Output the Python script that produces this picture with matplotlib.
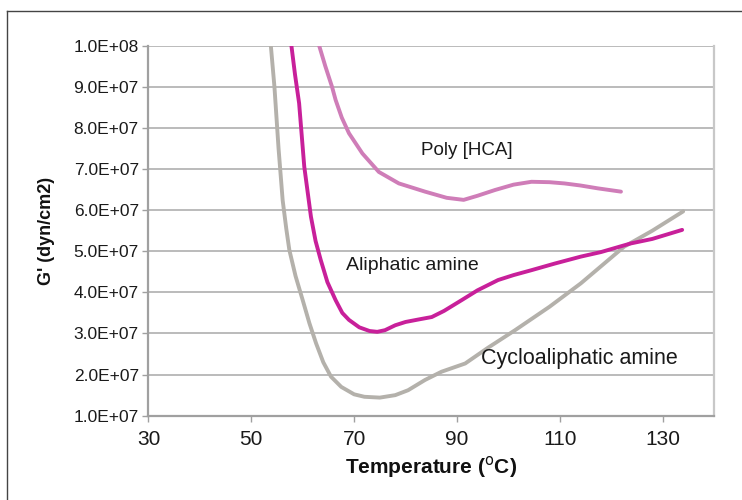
import matplotlib
matplotlib.use("Agg")
import matplotlib.pyplot as plt
from matplotlib.lines import Line2D

plt.rcParams['font.family'] = ['Liberation Sans', 'DejaVu Sans']

# Data (G' in units of 1e7 dyn/cm2)
cyclo_T = [53.0, 53.8, 54.5, 55.3, 56.1, 56.8, 57.4, 58.6, 60.0, 61.3, 62.6, 64.0, 65.5, 67.5,
           70.0, 72.0, 75.0, 78.0, 80.5, 83.8, 87.0, 91.6, 96.0, 101.3, 108.0, 114.1,
           122.5, 128.0, 134.0]
cyclo_G = [11.0, 10.0, 9.0, 7.5, 6.24, 5.55, 5.03, 4.4, 3.81, 3.25, 2.76, 2.3, 1.95, 1.7,
           1.52, 1.46, 1.44, 1.5, 1.62, 1.87, 2.07, 2.27, 2.65, 3.08, 3.65, 4.22,
           5.11, 5.5, 5.97]

aliph_T = [57.2, 57.8, 58.5, 59.3, 60.3, 61.6, 62.5, 63.5, 64.8, 66.4, 67.7, 69.0, 71.0, 73.0,
           74.5, 76.0, 78.0, 80.0, 82.5, 85.1, 87.5, 90.9, 94.0, 98.0, 101.0, 104.5,
           109.0, 114.1, 118.0, 123.8, 128.0, 133.8]
aliph_G = [11.0, 10.0, 9.3, 8.6, 7.06, 5.84, 5.25, 4.79, 4.25, 3.81, 3.5, 3.33, 3.15, 3.06,
           3.04, 3.08, 3.2, 3.28, 3.34, 3.40, 3.55, 3.81, 4.05, 4.30, 4.42, 4.54,
           4.7, 4.87, 4.98, 5.19, 5.3, 5.52]

poly_T = [62.4, 63.2, 64.4, 65.7, 66.4, 67.6, 69.0, 71.6, 74.8, 78.7, 83.8, 88.0, 91.3, 94.0,
          97.4, 101.0, 104.5, 108.0, 110.9, 114.0, 117.4, 121.9]
poly_G = [11.0, 10.0, 9.5, 9.0, 8.68, 8.25, 7.87, 7.38, 6.93, 6.65, 6.45, 6.3, 6.25, 6.35,
          6.49, 6.62, 6.69, 6.68, 6.65, 6.6, 6.53, 6.45]

x_ticks = [30, 50, 70, 90, 110, 130]
y_ticks = [1, 2, 3, 4, 5, 6, 7, 8, 9, 10]
y_tick_labels = ["1.0E+07", "2.0E+07", "3.0E+07", "4.0E+07", "5.0E+07",
                 "6.0E+07", "7.0E+07", "8.0E+07", "9.0E+07", "1.0E+08"]

fig = plt.figure(figsize=(7.42, 5.0), dpi=100)
ax = fig.add_axes([0.2001, 0.1686, 0.7622, 0.74])

ax.set_xlim(30, 140)
ax.set_ylim(1, 10)
ax.set_yticks(y_ticks)
ax.set_yticklabels(y_tick_labels)
ax.set_xticks(x_ticks)

ax.grid(axis='y', color='#a8a8a8', linewidth=1.1, zorder=0)
ax.set_axisbelow(True)

lw = 2.8
ax.plot(cyclo_T, cyclo_G, color='#b4b1ab', linewidth=lw, solid_capstyle='round',
        solid_joinstyle='round', zorder=3)
ax.plot(aliph_T, aliph_G, color='#c8209a', linewidth=lw, solid_capstyle='round',
        solid_joinstyle='round', zorder=4)
ax.plot(poly_T, poly_G, color='#cf7db8', linewidth=lw, solid_capstyle='round',
        solid_joinstyle='round', zorder=4)

ax.text(83.1, 7.46, "Poly [HCA]", fontsize=13.5, color='#1a1a1a', va='center', ha='left')
ax.text(68.4, 4.65, "Aliphatic amine", fontsize=14, color='#1a1a1a', va='center', ha='left')
ax.text(94.7, 2.4, "Cycloaliphatic amine", fontsize=15.5, color='#1a1a1a', va='center', ha='left')

for s in ['left', 'bottom']:
    ax.spines[s].set_color('#a0a0a0')
    ax.spines[s].set_linewidth(1.6)
ax.spines['right'].set_color('#c8c8c8')
ax.spines['right'].set_linewidth(1.6)
ax.spines['top'].set_visible(False)

ax.tick_params(axis='x', direction='out', length=4, width=1, color='#a0a0a0',
               labelsize=15, labelcolor='#1a1a1a', pad=6)
ax.tick_params(axis='y', direction='out', length=4, width=1, color='#a0a0a0',
               labelsize=12.5, labelcolor='#1a1a1a', pad=3)

ax.set_xlabel("Temperature ($^{\\mathrm{o}}$C)", fontsize=15, fontweight='bold',
              color='#111111', labelpad=4)
ax.set_ylabel("G' (dyn/cm2)", fontsize=13, fontweight='bold', color='#111111')
ax.yaxis.set_label_coords(-0.165, 0.5)

# outer frame lines
fig.add_artist(Line2D([7/742, 7/742], [0, 1 - 11/500], transform=fig.transFigure,
                      color='#444444', linewidth=1.0))
fig.add_artist(Line2D([7/742, 1], [1 - 11/500, 1 - 11/500], transform=fig.transFigure,
                      color='#444444', linewidth=1.0))

fig.savefig("out.png", dpi=100)
